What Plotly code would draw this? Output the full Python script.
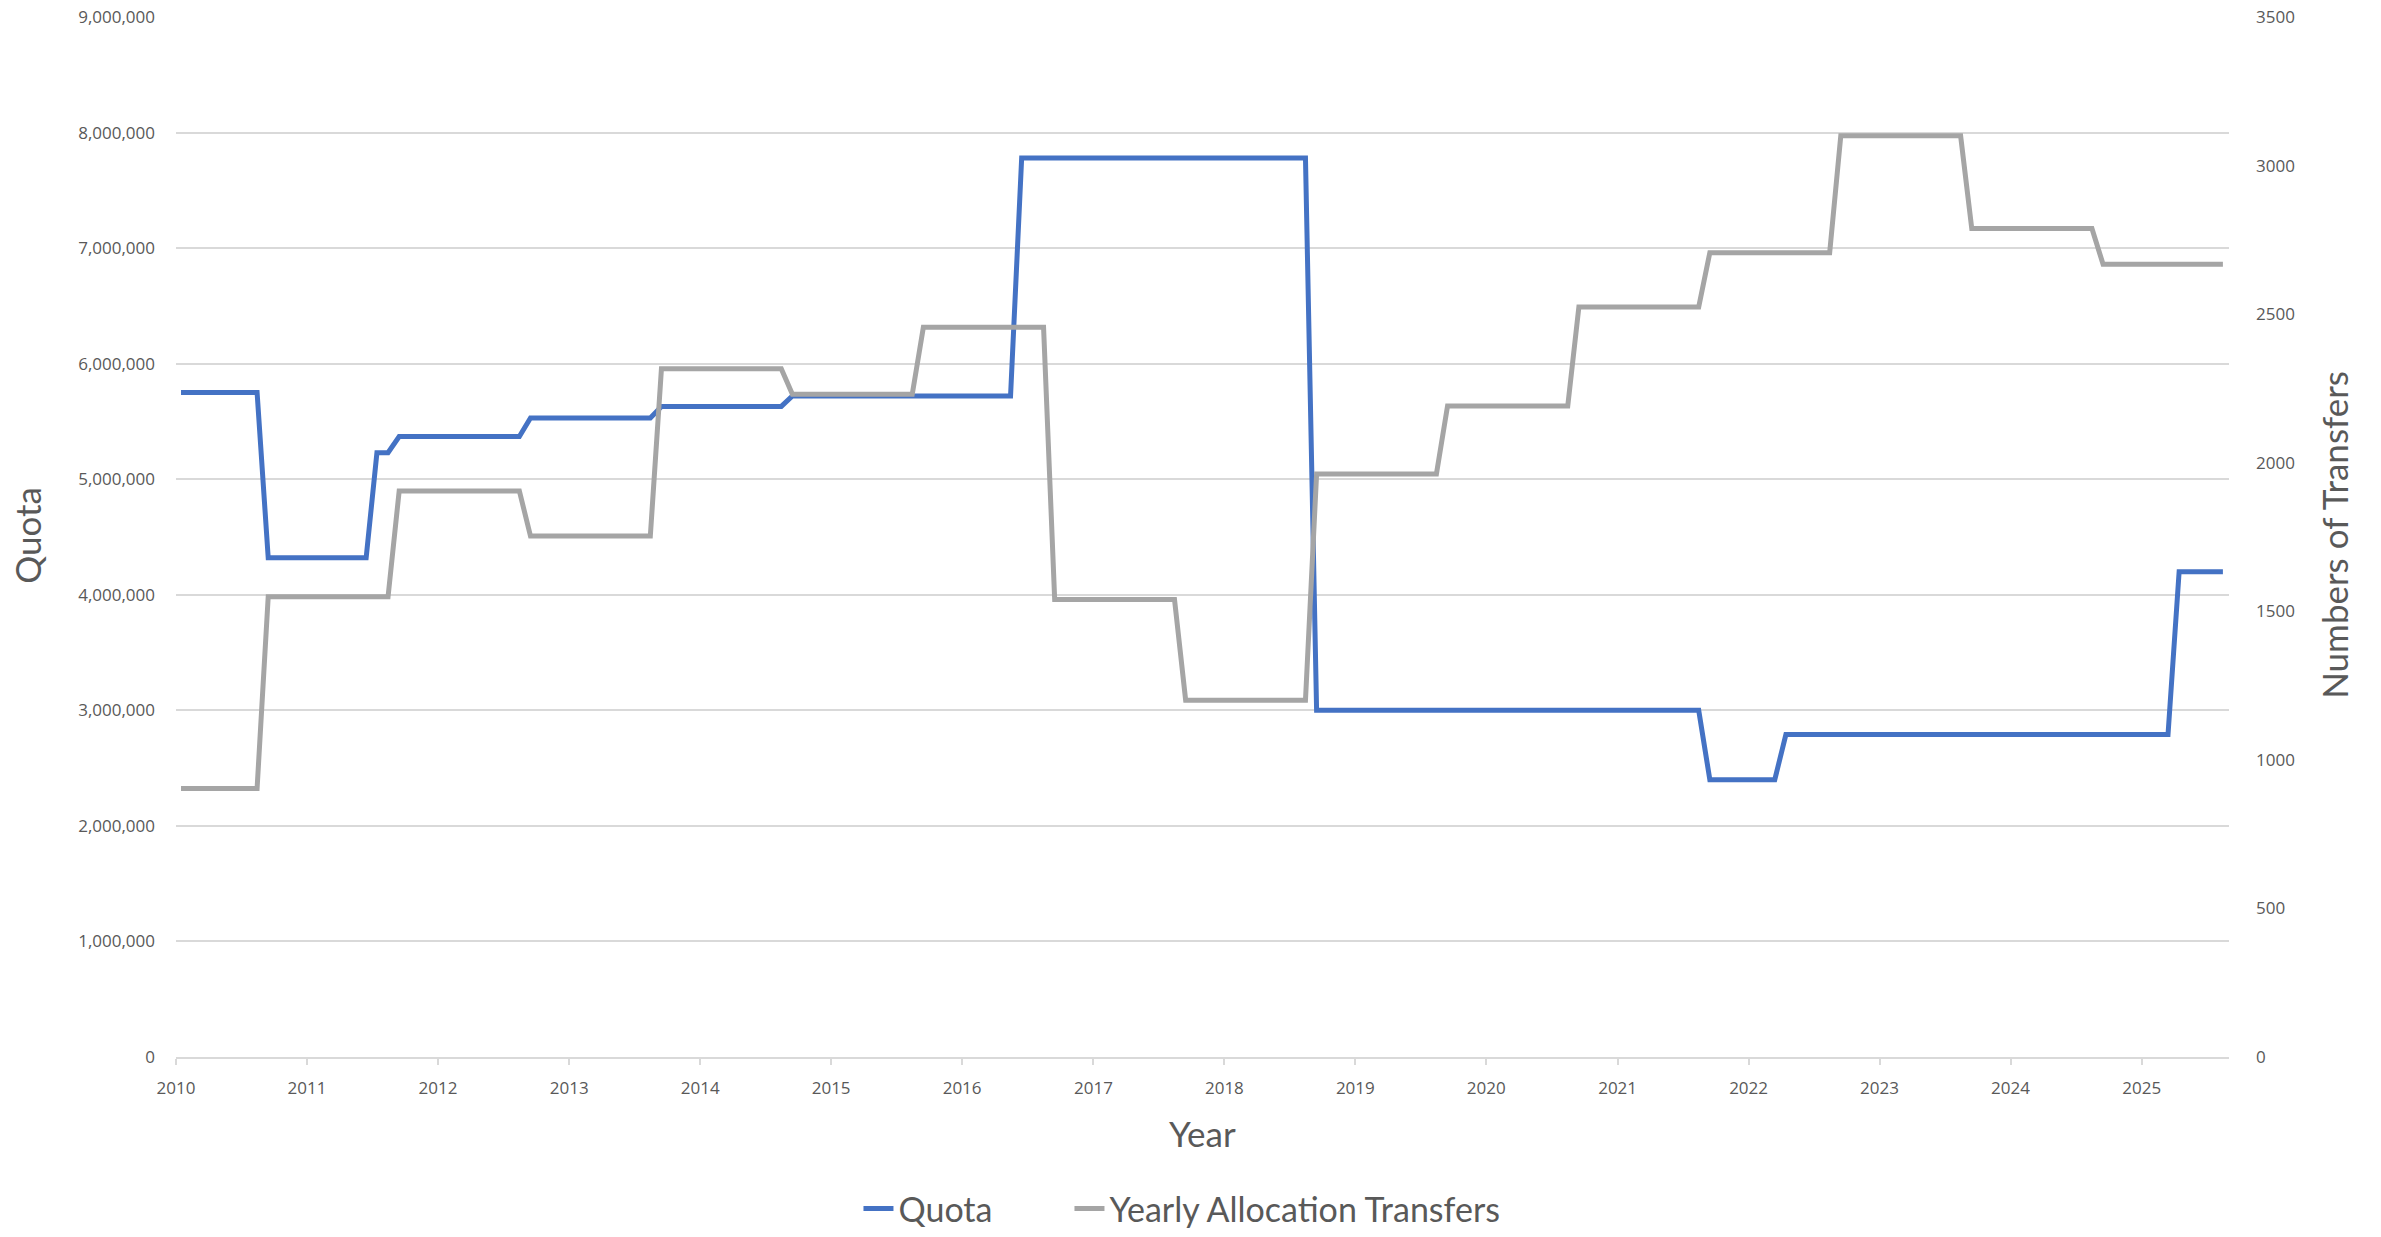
import plotly.graph_objects as go

# ---- data ----
last_month = "2025-08"

quota_start = ["2010-01", "2010-09", "2011-07", "2011-09", "2012-09", "2013-09",
               "2014-09", "2016-06", "2018-09", "2021-09", "2022-04", "2025-04"]
quota_vals = [5750000, 4320000, 5230000, 5370000, 5530000, 5630000,
              5720000, 7780000, 3000000, 2400000, 2790000, 4200000]

transfer_start = ["2010-01", "2010-09", "2011-09", "2012-09", "2013-09", "2014-09",
                  "2015-09", "2016-09", "2017-09", "2018-09", "2019-09", "2020-09",
                  "2021-09", "2022-09", "2023-09", "2024-09"]
transfer_vals = [904, 1549, 1905, 1753, 2316, 2230,
                 2456, 1540, 1201, 1962, 2191, 2524,
                 2707, 3100, 2788, 2668]

left_ticks = [0, 1000000, 2000000, 3000000, 4000000, 5000000, 6000000, 7000000, 8000000, 9000000]
right_ticks = [0, 500, 1000, 1500, 2000, 2500, 3000, 3500]


def prev_month(m):
    y, mo = int(m[:4]), int(m[5:7])
    mo -= 1
    if mo == 0:
        y, mo = y - 1, 12
    return f"{y:04d}-{mo:02d}"


def step_vertices(starts, vals, end):
    xs, ys = [], []
    for i, (s, v) in enumerate(zip(starts, vals)):
        e = prev_month(starts[i + 1]) if i + 1 < len(starts) else end
        xs.append(s + "-15"); ys.append(v)
        if e != s:
            xs.append(e + "-15"); ys.append(v)
    return xs, ys


qx, qy = step_vertices(quota_start, quota_vals, last_month)
tx, ty = step_vertices(transfer_start, transfer_vals, last_month)

BLUE = "#4472C4"
GRAY = "#A5A5A5"
TXT = "#595959"
GRID = "#D9D9D9"
TICKFONT = dict(family="Open Sans", size=17, color=TXT)
TITLEFONT = dict(family="Lato", size=35, color=TXT)

fig = go.Figure()
fig.add_trace(go.Scatter(x=qx, y=qy, name="Quota", mode="lines",
                         line=dict(color=BLUE, width=5), yaxis="y",
                         legendwidth=166))
fig.add_trace(go.Scatter(x=tx, y=ty, name="Yearly Allocation Transfers", mode="lines",
                         line=dict(color=GRAY, width=5), yaxis="y2"))

fig.update_layout(
    width=2381, height=1237,
    margin=dict(l=176, r=152, t=17, b=180, autoexpand=False),
    plot_bgcolor="white", paper_bgcolor="white",
    showlegend=True,
    legend=dict(orientation="h", x=0.49, xanchor="center", y=-0.146, yanchor="middle",
                font=dict(family="Lato", size=34, color=TXT)),
    xaxis=dict(type="date", range=["2010-01-01", "2025-09-01"],
               dtick="M12", tick0="2010-01-01", tickformat="%Y",
               showgrid=False, showline=True, linecolor=GRID, linewidth=1.5,
               ticks="outside", ticklen=6, tickcolor=GRID, tickwidth=1.5,
               tickfont=TICKFONT, zeroline=False, automargin=False,
               ticklabelstandoff=9),
    yaxis=dict(range=[0, 9000000], tickvals=left_ticks, tickformat=",d",
               showgrid=True, gridcolor=GRID, gridwidth=1.5, zeroline=False,
               ticks="", tickfont=TICKFONT, ticklabelstandoff=20, automargin=False),
    yaxis2=dict(range=[0, 3500], tickvals=right_ticks, overlaying="y", side="right",
                showgrid=False, zeroline=False, ticks="", tickfont=TICKFONT,
                ticklabelstandoff=26, automargin=False),
    annotations=[
        dict(text="Quota", xref="paper", yref="paper", x=-0.0726, y=0.502,
             textangle=-90, showarrow=False, font=TITLEFONT,
             xanchor="center", yanchor="middle"),
        dict(text="Numbers of Transfers", xref="paper", yref="paper", x=1.0511, y=0.502,
             textangle=-90, showarrow=False, font=TITLEFONT,
             xanchor="center", yanchor="middle"),
        dict(text="Year", xref="paper", yref="paper", x=0.5, y=-0.0731,
             showarrow=False, font=TITLEFONT, xanchor="center", yanchor="middle"),
    ],
)

fig.write_html("out.html",
               config={"displayModeBar": False},
               post_script="document.body.style.margin='0';document.body.style.overflow='hidden';")
